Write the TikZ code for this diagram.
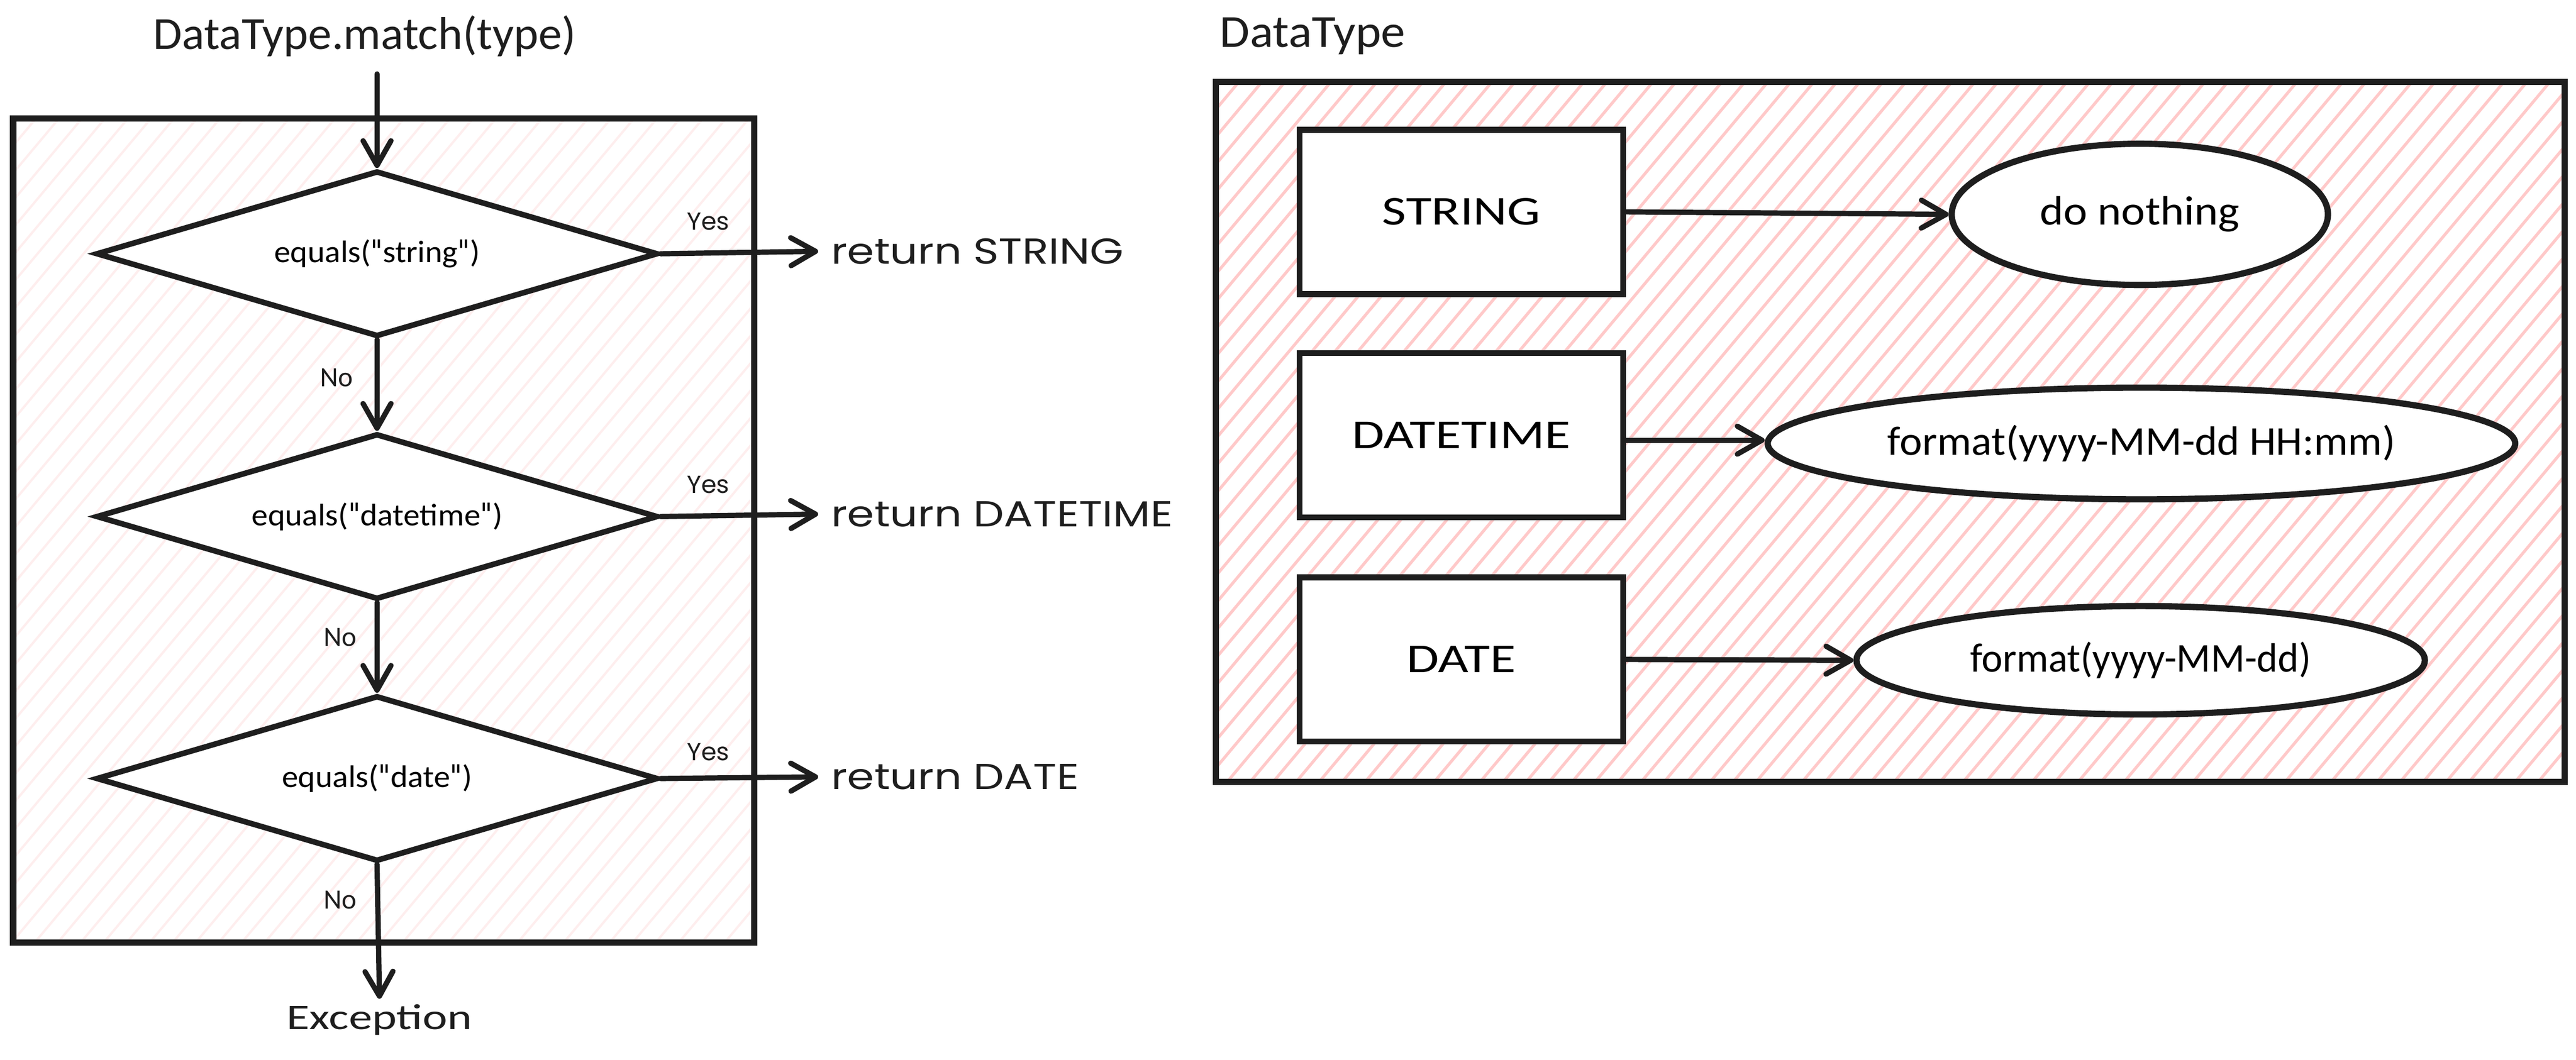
\documentclass[tikz,border=0pt]{standalone}
\usepackage{fontspec}
\setmainfont{Carlito}
\newfontfamily\comicfont{Poppins}
\newfontfamily\quotefont{DejaVu Sans}
\usetikzlibrary{shapes.geometric,arrows.meta}
\definecolor{ink}{HTML}{1E1E1E}
\definecolor{hatchA}{HTML}{FFC9C9}
\definecolor{hatchB}{RGB}{254,238,238}
\newcommand{\hs}[2]{\scalebox{#1}[1]{#2}}
\newcommand{\dq}{{\quotefont\scalebox{0.8}[1]{\symbol{34}}}}
\begin{document}
\begin{tikzpicture}[x=1pt,y=-1pt,
  framebox/.style={draw=ink, line width=3.8},
  decision/.style={diamond, draw=ink, fill=white, line width=3.4, minimum width=342, minimum height=101, inner sep=0, shape aspect=3.39, font=\fontsize{19}{21}\selectfont},
  typebox/.style={rectangle, draw=ink, fill=white, line width=3.6, minimum width=197, minimum height=100, inner sep=0, font=\fontsize{25}{28}\selectfont},
  action/.style={ellipse, draw=ink, fill=white, line width=3.8, inner sep=0, font=\fontsize{25}{28}\selectfont},
  arr/.style={draw=ink, line width=3.2, line cap=round, -{Straight Barb[length=15pt,width=17pt,round]}},
  virgil/.style={font=\fontsize{28}{32}\selectfont, text=ink},
  nolabel/.style={font=\fontsize{17}{20}\selectfont, text=ink},
  yeslabel/.style={font=\comicfont\fontsize{15}{18}\selectfont, text=ink},
  retlabel/.style={font=\comicfont\fontsize{22}{24}\selectfont, text=ink, anchor=west, inner sep=0, outer xsep=8}
]
\useasboundingbox (0,0) rectangle (1568,645.1);
\fill[white] (0,0) rectangle (1568,645.1);

% left frame with faint hatch
\begin{scope}
  \clip (8,72) rectangle (459,574);
  \foreach \i in {0,...,64}
    \draw[hatchB, line width=1.4] ({8-421+\i*14},574) -- ++(421,-502);
\end{scope}
\draw[framebox] (8,72) rectangle (459,574);

% right frame with pink hatch
\begin{scope}
  \clip (740,50) rectangle (1561,476);
  \foreach \i in {0,...,86}
    \draw[hatchA, line width=1.8] ({740-357+\i*14},476) -- ++(357,-426);
\end{scope}
\draw[framebox] (740,50) rectangle (1561,476);

% titles
\node[virgil] (title) at (222,22) {\hs{1.02}{DataType.match(type)}};
\node[virgil] (title2) at (799,22) {\hs{1.06}{DataType}};

% flowchart
\coordinate (start) at (229.5,45);
\node[decision] (d1) at (229.5,154.5) {\hs{1.05}{equals(\dq string\dq)}};
\node[decision] (d2) at (229.5,314.5) {\hs{1.05}{equals(\dq datetime\dq)}};
\node[decision] (d3) at (229.5,474) {\hs{1.05}{equals(\dq date\dq)}};
\node[virgil, font=\fontsize{22}{26}\selectfont] (exc) at (231,621) {\hs{1.3}{Exception}};

\node[retlabel] (r1) at (498,153) {\hs{1.2}{return STRING}};
\node[retlabel] (r2) at (498,313) {\hs{1.2}{return DATETIME}};
\node[retlabel] (r3) at (498,473) {\hs{1.2}{return DATE}};

\draw[arr] (start) -- (d1.north);
\draw[arr] (d1.south) -- (d2.north);
\draw[arr] (d2.south) -- (d3.north);
\draw[arr] (d3.south) -- (exc.north);
\draw[arr] (d1.east) -- (r1.west);
\draw[arr] (d2.east) -- (r2.west);
\draw[arr] (d3.east) -- (r3.west);

\node[yeslabel] (y1) at (431,135) {Yes};
\node[yeslabel] (y2) at (431,295) {Yes};
\node[yeslabel] (y3) at (431,458) {Yes};
\node[nolabel] (n1) at (205,230) {No};
\node[nolabel] (n2) at (207,388) {No};
\node[nolabel] (n3) at (207,548) {No};

% right side
\node[typebox] (ts) at (889.5,129) {\hs{1.28}{STRING}};
\node[typebox] (tdt) at (889.5,265) {\hs{1.28}{DATETIME}};
\node[typebox] (td) at (889.5,401.5) {\hs{1.28}{DATE}};
\node[action, minimum width=229, minimum height=86] (es) at (1302.5,130.5) {\hs{1.1}{do nothing}};
\node[action, minimum width=455, minimum height=68] (edt) at (1303.5,270) {\hs{1.04}{format(yyyy-MM-dd HH:mm)}};
\node[action, minimum width=346, minimum height=66] (ed) at (1303,402) {\hs{0.97}{format(yyyy-MM-dd)}};
\draw[arr] (ts.east) -- (es.west);
\draw[arr] ([yshift=-3pt]tdt.east) -- ([yshift=2pt]edt.west);
\draw[arr] (td.east) -- (ed.west);
\end{tikzpicture}
\end{document}
